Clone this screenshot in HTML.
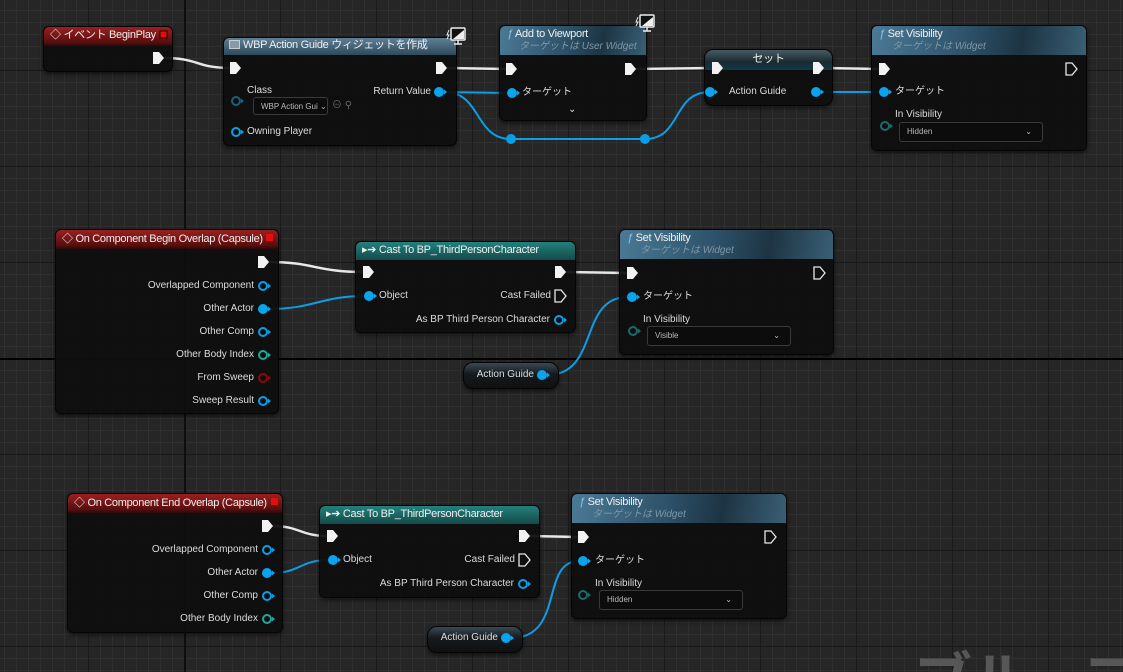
<!DOCTYPE html>
<html style="width:1123px;height:672px;overflow:hidden"><head><meta charset="utf-8">
<style>
*{margin:0;padding:0;box-sizing:border-box}
body{width:1123px;height:672px;overflow:hidden;position:relative;background:#262626;font-family:"Liberation Sans","Noto Sans CJK JP",sans-serif;color:#dcdcdc}
.grid{position:absolute;left:0;top:0;width:1123px;height:672px;
background-image:
repeating-linear-gradient(to right,transparent 0 88px,#1a1a1a 88px 89px,transparent 89px 96px),
repeating-linear-gradient(to bottom,transparent 0 70px,#1a1a1a 70px 71px,transparent 71px 96px),
repeating-linear-gradient(to right,transparent 0 4px,#303030 4px 5px,transparent 5px 12px),
repeating-linear-gradient(to bottom,transparent 0 10px,#303030 10px 11px,transparent 11px 12px)}
.node{position:absolute;background:rgba(14,14,14,0.94);border:1px solid #050505;border-radius:6px;box-shadow:0 2px 5px rgba(0,0,0,.6)}
.hd{position:absolute;left:0;top:0;right:0;border-radius:5px 5px 0 0}
.ev{background:linear-gradient(to bottom,#9b2020,#5a0e0e 80%,#2a0a0a)}
.fn{background:linear-gradient(100deg,#4b7a96 0%,#2d5168 45%,#1d3443 70%,#3a5f75 100%)}
.ct{background:linear-gradient(to bottom,#23807c,#134a4a)}
.t{position:absolute;font-size:10px;line-height:14px;white-space:nowrap;color:#dcdcdc}
.h{position:absolute;font-size:11px;line-height:14px;white-space:nowrap;color:#f0f0f0;letter-spacing:-0.3px}
.s{position:absolute;font-size:10px;line-height:12px;white-space:nowrap;color:#7e97a6;font-style:italic}
.r{text-align:right}
.dd{position:absolute;background:#0c0c0c;border:1px solid #3a3a3a;border-radius:3px;font-size:8px;color:#bbb;padding-left:7px;line-height:17px}
.var{position:absolute;border-radius:10px;background:linear-gradient(to bottom,#3a4a52,#151a1d 45%,#101010);border:1px solid #050505;box-shadow:0 2px 4px rgba(0,0,0,.6)}
.wmc{position:absolute;left:900px;top:640px;width:223px;height:32px;overflow:hidden}
.wm{position:absolute;left:14px;top:6px;font-size:58px;line-height:58px;color:#575757;font-weight:bold;font-family:"Noto Sans CJK JP",sans-serif;white-space:nowrap}
</style></head><body>
<div class="grid"></div>
<svg style="position:absolute;left:0;top:0" width="1123" height="672">
<line x1="0" y1="359" x2="1123" y2="359" stroke="#000" stroke-width="2"/>
<line x1="185" y1="0" x2="185" y2="672" stroke="#0e0e0e" stroke-width="2"/>
</svg>
<div class="wmc"><div class="wm">ブループリント</div></div>

<svg style="position:absolute;left:0;top:0" width="1123" height="672" fill="none">
<g stroke="#e8e8e8" stroke-width="2.5">
<path d="M163,58 C200,58 195,68 231,68"/>
<path d="M446,68 L508,69"/>
<path d="M635,69 L713,68"/>
<path d="M823,68 L880,69"/>
<path d="M268,262 C315,262 315,272 364,272"/>
<path d="M565,272 L628,273"/>
<path d="M272,526 C300,526 300,536 328,536"/>
<path d="M529,536 L579,537"/>
</g>
<g stroke="#0a9ee6" stroke-width="2">
<path d="M444,92 L508,93"/>
<path d="M444,92 C482,92 474,139 511,139 L645,139 C682,139 672,92 710,92"/>
<path d="M821,92 L880,92"/>
<path d="M268,309 C315,309 320,296 365,296"/>
<path d="M547,375 C600,375 578,297 628,297"/>
<path d="M272,573 C300,573 300,560 329,560"/>
<path d="M511,638 C565,638 540,561 579,561"/>
</g>
<circle cx="511" cy="139" r="5" fill="#0a9ee6"/>
<circle cx="645" cy="139" r="5" fill="#0a9ee6"/>
</svg>

<div class="node" style="left:43px;top:26px;width:130px;height:46px"><div class="hd ev" style="height:19px"></div></div>
<div class="h" style="left:50px;top:28px">◇ イベント BeginPlay</div>

<div class="node" style="left:223px;top:37px;width:234px;height:109px"><div class="hd fn" style="height:17px;background:linear-gradient(to bottom,#5d7f95,#2e4a5c)"></div></div>
<div class="h" style="left:229px;top:38px"><span style="display:inline-block;width:11px;height:9px;background:#8a9aa5;border:1px solid #ccc;margin-right:3px;vertical-align:-1px"></span>WBP Action Guide ウィジェットを作成</div>
<div class="t" style="left:247px;top:84px">Class</div>
<div class="dd" style="left:253px;top:97px;width:75px;height:18px">WBP Action Gui ⌄</div>
<div class="t" style="left:332px;top:99px;color:#666">⊖ ⚲</div>
<div class="t" style="left:247px;top:125px">Owning Player</div>
<div class="t r" style="left:331px;top:85px;width:100px">Return Value</div>

<div class="node" style="left:499px;top:25px;width:148px;height:96px"><div class="hd fn" style="height:29px"></div></div>
<div class="h" style="left:507px;top:27px"><i style="color:#8fc4e0">ƒ</i> Add to Viewport</div>
<div class="s" style="left:519px;top:41px">ターゲットは User Widget</div>
<div class="t" style="left:522px;top:86px">ターゲット</div>
<div class="t" style="left:568px;top:103px">⌄</div>

<div class="node" style="left:704px;top:49px;width:129px;height:57px;border-radius:9px"><div class="hd" style="height:20px;border-radius:8px 8px 0 0;background:linear-gradient(to bottom,#4a5a62,#1a2a30 60%,#0f3a4a)"></div></div>
<div class="h" style="left:704px;top:52px;width:129px;text-align:center">セット</div>
<div class="t" style="left:729px;top:85px">Action Guide</div>

<div class="node" style="left:871px;top:25px;width:216px;height:126px"><div class="hd fn" style="height:29px"></div></div>
<div class="h" style="left:879px;top:27px"><i style="color:#8fc4e0">ƒ</i> Set Visibility</div>
<div class="s" style="left:892px;top:41px">ターゲットは Widget</div>
<div class="t" style="left:895px;top:85px">ターゲット</div>
<div class="t" style="left:895px;top:108px">In Visibility</div>
<div class="dd" style="left:899px;top:122px;width:144px;height:20px">Hidden<span style="position:absolute;right:10px">⌄</span></div>

<div class="node" style="left:55px;top:229px;width:224px;height:185px"><div class="hd ev" style="height:19px"></div></div>
<div class="h" style="left:62px;top:232px">◇ On Component Begin Overlap (Capsule)</div>
<div class="t r" style="left:54px;top:279px;width:200px">Overlapped Component</div>
<div class="t r" style="left:54px;top:302px;width:200px">Other Actor</div>
<div class="t r" style="left:54px;top:325px;width:200px">Other Comp</div>
<div class="t r" style="left:54px;top:348px;width:200px">Other Body Index</div>
<div class="t r" style="left:54px;top:371px;width:200px">From Sweep</div>
<div class="t r" style="left:54px;top:394px;width:200px">Sweep Result</div>

<div class="node" style="left:355px;top:241px;width:221px;height:92px"><div class="hd ct" style="height:18px"></div></div>
<div class="h" style="left:362px;top:243px">▸➔ Cast To BP_ThirdPersonCharacter</div>
<div class="t" style="left:379px;top:289px">Object</div>
<div class="t r" style="left:401px;top:289px;width:150px">Cast Failed</div>
<div class="t r" style="left:350px;top:313px;width:200px">As BP Third Person Character</div>

<div class="node" style="left:619px;top:229px;width:215px;height:126px"><div class="hd fn" style="height:29px"></div></div>
<div class="h" style="left:627px;top:231px"><i style="color:#8fc4e0">ƒ</i> Set Visibility</div>
<div class="s" style="left:640px;top:245px">ターゲットは Widget</div>
<div class="t" style="left:643px;top:290px">ターゲット</div>
<div class="t" style="left:643px;top:313px">In Visibility</div>
<div class="dd" style="left:647px;top:326px;width:144px;height:20px">Visible<span style="position:absolute;right:10px">⌄</span></div>

<div class="var" style="left:463px;top:362px;width:96px;height:27px"></div>
<div class="t r" style="left:434px;top:368px;width:100px">Action Guide</div>

<div class="node" style="left:67px;top:493px;width:216px;height:140px"><div class="hd ev" style="height:19px"></div></div>
<div class="h" style="left:74px;top:496px">◇ On Component End Overlap (Capsule)</div>
<div class="t r" style="left:58px;top:543px;width:200px">Overlapped Component</div>
<div class="t r" style="left:58px;top:566px;width:200px">Other Actor</div>
<div class="t r" style="left:58px;top:589px;width:200px">Other Comp</div>
<div class="t r" style="left:58px;top:612px;width:200px">Other Body Index</div>

<div class="node" style="left:319px;top:505px;width:221px;height:93px"><div class="hd ct" style="height:18px"></div></div>
<div class="h" style="left:326px;top:507px">▸➔ Cast To BP_ThirdPersonCharacter</div>
<div class="t" style="left:343px;top:553px">Object</div>
<div class="t r" style="left:365px;top:553px;width:150px">Cast Failed</div>
<div class="t r" style="left:314px;top:577px;width:200px">As BP Third Person Character</div>

<div class="node" style="left:571px;top:493px;width:216px;height:126px"><div class="hd fn" style="height:29px"></div></div>
<div class="h" style="left:579px;top:495px"><i style="color:#8fc4e0">ƒ</i> Set Visibility</div>
<div class="s" style="left:592px;top:509px">ターゲットは Widget</div>
<div class="t" style="left:595px;top:554px">ターゲット</div>
<div class="t" style="left:595px;top:577px">In Visibility</div>
<div class="dd" style="left:599px;top:590px;width:144px;height:20px">Hidden<span style="position:absolute;right:10px">⌄</span></div>

<div class="var" style="left:427px;top:626px;width:96px;height:27px"></div>
<div class="t r" style="left:398px;top:631px;width:100px">Action Guide</div>

<svg style="position:absolute;left:0;top:0" width="1123" height="672">
<defs>
<g id="ex"><polygon points="-5,-6 1,-6 6,0 1,6 -5,6" fill="#f2f2f2"/></g>
<g id="exo"><polygon points="-5,-6 1,-6 6,0 1,6 -5,6" fill="none" stroke="#e8e8e8" stroke-width="1.3"/></g>
<g id="dp"><circle r="5" fill="#0aa4ee"/><polygon points="5,-2.5 8,0 5,2.5" fill="#0aa4ee"/></g>
<g id="ho"><circle r="4" fill="none" stroke="#0a9ee6" stroke-width="2"/><polygon points="5,-2.5 8,0 5,2.5" fill="#0a9ee6"/></g>
</defs>
<rect x="160" y="31" width="7" height="7" fill="#e01010" stroke="#300" stroke-width="1"/>
<rect x="266" y="234" width="7" height="7" fill="#e01010"/>
<rect x="271" y="498" width="7" height="7" fill="#e01010"/>
<use href="#ex" x="158" y="58"/>
<use href="#ex" x="235" y="68"/><use href="#ex" x="441" y="68"/>
<use href="#ex" x="511" y="69"/><use href="#ex" x="630" y="69"/>
<use href="#ex" x="717" y="68"/><use href="#ex" x="818" y="68"/>
<use href="#ex" x="884" y="69"/><use href="#exo" x="1071" y="69"/>
<g transform="translate(236,101)"><circle r="4" fill="none" stroke="#1a5f80" stroke-width="2"/><polygon points="5,-2.5 8,0 5,2.5" fill="#1a5f80"/></g>
<use href="#ho" x="236" y="132"/>
<use href="#dp" x="439" y="92"/>
<use href="#dp" x="512" y="93"/>
<use href="#dp" x="710" y="92"/><use href="#dp" x="816" y="92"/>
<use href="#dp" x="884" y="92"/>
<g transform="translate(885,126)"><circle r="4" fill="none" stroke="#1b6a6a" stroke-width="2"/><polygon points="5,-2.5 8,0 5,2.5" fill="#1b6a6a"/></g>

<use href="#ex" x="263" y="262"/>
<use href="#ho" x="263" y="286"/><use href="#dp" x="263" y="309"/><use href="#ho" x="263" y="332"/>
<g transform="translate(263,355)"><circle r="4" fill="none" stroke="#1fa89a" stroke-width="2"/><polygon points="5,-2.5 8,0 5,2.5" fill="#1fa89a"/></g>
<g transform="translate(263,378)"><circle r="4" fill="none" stroke="#8a0a0a" stroke-width="2"/><polygon points="5,-2.5 8,0 5,2.5" fill="#8a0a0a"/></g>
<use href="#ho" x="263" y="401"/>
<use href="#ex" x="368" y="272"/><use href="#ex" x="560" y="272"/>
<use href="#dp" x="369" y="296"/><use href="#exo" x="560" y="296"/><use href="#ho" x="559" y="320"/>
<use href="#ex" x="632" y="273"/><use href="#exo" x="819" y="273"/>
<use href="#dp" x="632" y="297"/>
<g transform="translate(633,331)"><circle r="4" fill="none" stroke="#1b6a6a" stroke-width="2"/><polygon points="5,-2.5 8,0 5,2.5" fill="#1b6a6a"/></g>
<use href="#dp" x="542" y="375"/>

<use href="#ex" x="267" y="526"/>
<use href="#ho" x="267" y="550"/><use href="#dp" x="267" y="573"/><use href="#ho" x="267" y="596"/>
<g transform="translate(267,619)"><circle r="4" fill="none" stroke="#1fa89a" stroke-width="2"/><polygon points="5,-2.5 8,0 5,2.5" fill="#1fa89a"/></g>
<use href="#ex" x="332" y="536"/><use href="#ex" x="524" y="536"/>
<use href="#dp" x="333" y="560"/><use href="#exo" x="524" y="560"/><use href="#ho" x="523" y="584"/>
<use href="#ex" x="583" y="537"/><use href="#exo" x="770" y="537"/>
<use href="#dp" x="583" y="561"/>
<g transform="translate(583,595)"><circle r="4" fill="none" stroke="#1b6a6a" stroke-width="2"/><polygon points="5,-2.5 8,0 5,2.5" fill="#1b6a6a"/></g>
<use href="#dp" x="506" y="638"/>

<g transform="translate(447,28)"><rect x="4" y="0" width="14" height="12" rx="1" fill="#111" stroke="#eee" stroke-width="1.5"/><path d="M6,11 L17,2 L17,11 Z" fill="#eee"/><line x1="11" y1="12" x2="11" y2="16" stroke="#eee" stroke-width="1.5"/><line x1="7" y1="16" x2="15" y2="16" stroke="#eee" stroke-width="1.5"/><path d="M2,2 L0,7 L2,7 L0,11" stroke="#eee" stroke-width="1" fill="none"/></g>
<g transform="translate(636,15)"><rect x="4" y="0" width="14" height="12" rx="1" fill="#111" stroke="#eee" stroke-width="1.5"/><path d="M6,11 L17,2 L17,11 Z" fill="#eee"/><line x1="11" y1="12" x2="11" y2="16" stroke="#eee" stroke-width="1.5"/><line x1="7" y1="16" x2="15" y2="16" stroke="#eee" stroke-width="1.5"/><path d="M2,2 L0,7 L2,7 L0,11" stroke="#eee" stroke-width="1" fill="none"/></g>
</svg>
</body></html>
